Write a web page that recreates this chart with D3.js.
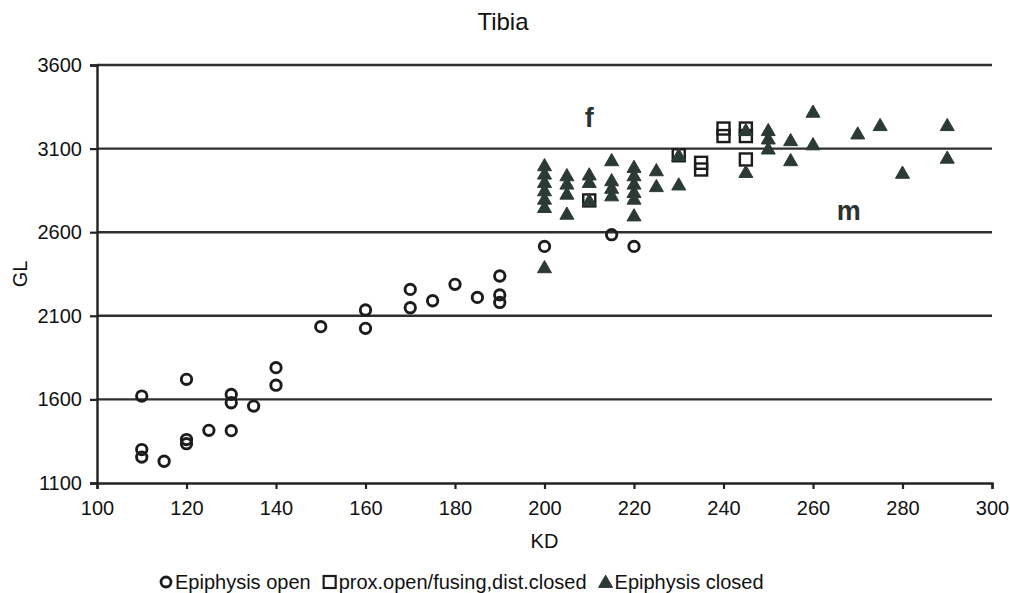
<!DOCTYPE html>
<html>
<head>
<meta charset="utf-8">
<script src="https://cdn.jsdelivr.net/npm/d3@7/dist/d3.min.js"></script>
<style>
  html, body { margin: 0; padding: 0; background: #fff; }
  svg { display: block; font-family: "Liberation Sans", Arial, sans-serif; }
</style>
</head>
<body>
<svg id="chart" width="1010" height="593"></svg>
<script>
// ---- data ----
const title = "Tibia";
const xLabel = "KD";
const yLabel = "GL";
const xTicks = [100, 120, 140, 160, 180, 200, 220, 240, 260, 280, 300];
const yTicks = [1100, 1600, 2100, 2600, 3100, 3600];

const openKD = [110, 110, 110, 115, 120, 120, 120, 125, 130, 130, 130, 135, 140, 140,
                150, 160, 160, 170, 170, 175, 180, 185, 190, 190, 190, 200, 215, 220];
const openGL = [1620, 1300, 1255, 1230, 1720, 1360, 1335, 1415, 1630, 1580, 1413, 1560, 1790, 1685,
                2035, 2135, 2025, 2258, 2148, 2190, 2288, 2210, 2338, 2225, 2180, 2515, 2585, 2515];

const fusingKD = [210, 230, 235, 235, 240, 240, 245, 245, 245];
const fusingGL = [2790, 3060, 3015, 2975, 3220, 3175, 3220, 3175, 3035];

const closedKD = [200, 200, 200, 200, 200, 200, 200,
                  205, 205, 205, 205,
                  210, 210, 210,
                  215, 215, 215, 215,
                  220, 220, 220, 220, 220, 220,
                  225, 225,
                  230, 230,
                  245, 245,
                  250, 250, 250,
                  255, 255,
                  260, 260,
                  270, 275, 280, 290, 290];
const closedGL = [3000, 2950, 2900, 2850, 2800, 2750, 2390,
                  2940, 2890, 2830, 2710,
                  2945, 2900, 2790,
                  3030, 2910, 2865, 2820,
                  2990, 2940, 2890, 2840, 2800, 2700,
                  2970, 2875,
                  2885, 3060,
                  3210, 2960,
                  3210, 3160, 3100,
                  3150, 3030,
                  3320, 3125,
                  3190, 3240, 2955, 3240, 3045];

const legendLabels = ["Epiphysis open", "prox.open/fusing,dist.closed", "Epiphysis closed"];
const annotations = [{text: "f", kd: 210, gl: 3230}, {text: "m", kd: 268, gl: 2675}];

// ---- layout ----
const svg = d3.select("#chart");
const margin = {left: 97, right: 18, top: 65, bottom: 110};
const W = 1010, H = 593;
const x = d3.scaleLinear().domain([100, 300]).range([margin.left, W - margin.right]);
const y = d3.scaleLinear().domain([1100, 3600]).range([H - margin.bottom, margin.top]);

const ink = "#222";
const triFill = "#2c3a37";
const txt = "#111";

// gridlines
svg.append("g").selectAll("line")
  .data(yTicks.filter(d => d > 1100))
  .join("line")
  .attr("x1", x(100)).attr("x2", x(300))
  .attr("y1", d => y(d)).attr("y2", d => y(d))
  .attr("stroke", "#2e2e2e").attr("stroke-width", 2.4);

// axes
const yAxis = d3.axisLeft(y).tickValues(yTicks).tickSize(7).tickPadding(8).tickFormat(d3.format("d"));
const xAxis = d3.axisBottom(x).tickValues(xTicks).tickSize(6).tickPadding(12).tickFormat(d3.format("d"));

const gy = svg.append("g").attr("transform", `translate(${x(100)},0)`).call(yAxis);
const gx = svg.append("g").attr("transform", `translate(0,${y(1100)})`).call(xAxis);
[gx, gy].forEach(g => {
  g.select(".domain").attr("stroke", ink).attr("stroke-width", 2.4);
  g.selectAll(".tick line").attr("stroke", ink).attr("stroke-width", 2.2);
  g.selectAll(".tick text").attr("fill", txt).style("font-size", "20px")
    .style("font-family", "'Liberation Sans', Arial, sans-serif");
});

// title & axis labels
svg.append("text").attr("x", 503).attr("y", 30).attr("text-anchor", "middle")
  .style("font-size", "24px").attr("fill", txt).text(title);
svg.append("text").attr("x", (x(100) + x(300)) / 2).attr("y", 548).attr("text-anchor", "middle")
  .style("font-size", "20px").attr("fill", txt).text(xLabel);
svg.append("text").attr("transform", `translate(27,${(y(1100) + y(3600)) / 2}) rotate(-90)`)
  .attr("text-anchor", "middle").style("font-size", "20px").attr("fill", txt).text(yLabel);

// annotations
svg.append("g").selectAll("text").data(annotations).join("text")
  .attr("x", d => x(d.kd)).attr("y", d => y(d.gl)).attr("text-anchor", "middle")
  .style("font-size", "27px").style("font-weight", "bold").attr("fill", "#2a3330")
  .text(d => d.text);

// marker shapes
const triPath = "M0,-6.8L7,5.4L-7,5.4Z";
const sq = 12;

const openPts = openKD.map((k, i) => ({kd: k, gl: openGL[i]}));
const fusPts = fusingKD.map((k, i) => ({kd: k, gl: fusingGL[i]}));
const closedPts = closedKD.map((k, i) => ({kd: k, gl: closedGL[i]}));

svg.append("g").selectAll("circle").data(openPts).join("circle")
  .attr("cx", d => x(d.kd)).attr("cy", d => y(d.gl)).attr("r", 5.2)
  .attr("fill", "none").attr("stroke", "#1c1c1c").attr("stroke-width", 2.9);

svg.append("g").selectAll("rect").data(fusPts).join("rect")
  .attr("x", d => x(d.kd) - sq / 2).attr("y", d => y(d.gl) - sq / 2)
  .attr("width", sq).attr("height", sq)
  .attr("fill", "none").attr("stroke", "#1c1c1c").attr("stroke-width", 2.4);

svg.append("g").selectAll("path").data(closedPts).join("path")
  .attr("transform", d => `translate(${x(d.kd)},${y(d.gl)})`)
  .attr("d", triPath).attr("fill", triFill).attr("stroke", triFill)
  .attr("stroke-width", 1).attr("stroke-linejoin", "round");

// legend
const lg = svg.append("g").style("font-size", "20px").attr("fill", txt);
let lx = 166;
const ly = 582;
lg.append("circle").attr("cx", lx).attr("cy", ly).attr("r", 5)
  .attr("fill", "none").attr("stroke", "#1c1c1c").attr("stroke-width", 2.8);
let t = lg.append("text").attr("x", lx + 9).attr("y", ly + 7).text(legendLabels[0]);
lx = lx + 9 + t.node().getComputedTextLength() + 19;
lg.append("rect").attr("x", lx - sq / 2).attr("y", ly - sq / 2).attr("width", sq).attr("height", sq)
  .attr("fill", "none").attr("stroke", "#1c1c1c").attr("stroke-width", 2.2);
t = lg.append("text").attr("x", lx + 9).attr("y", ly + 7).text(legendLabels[1]);
lx = lx + 9 + t.node().getComputedTextLength() + 19;
lg.append("path").attr("transform", `translate(${lx},${ly})`).attr("d", triPath)
  .attr("fill", triFill).attr("stroke", triFill).attr("stroke-width", 1);
lg.append("text").attr("x", lx + 9).attr("y", ly + 7).text(legendLabels[2]);
</script>
</body>
</html>
